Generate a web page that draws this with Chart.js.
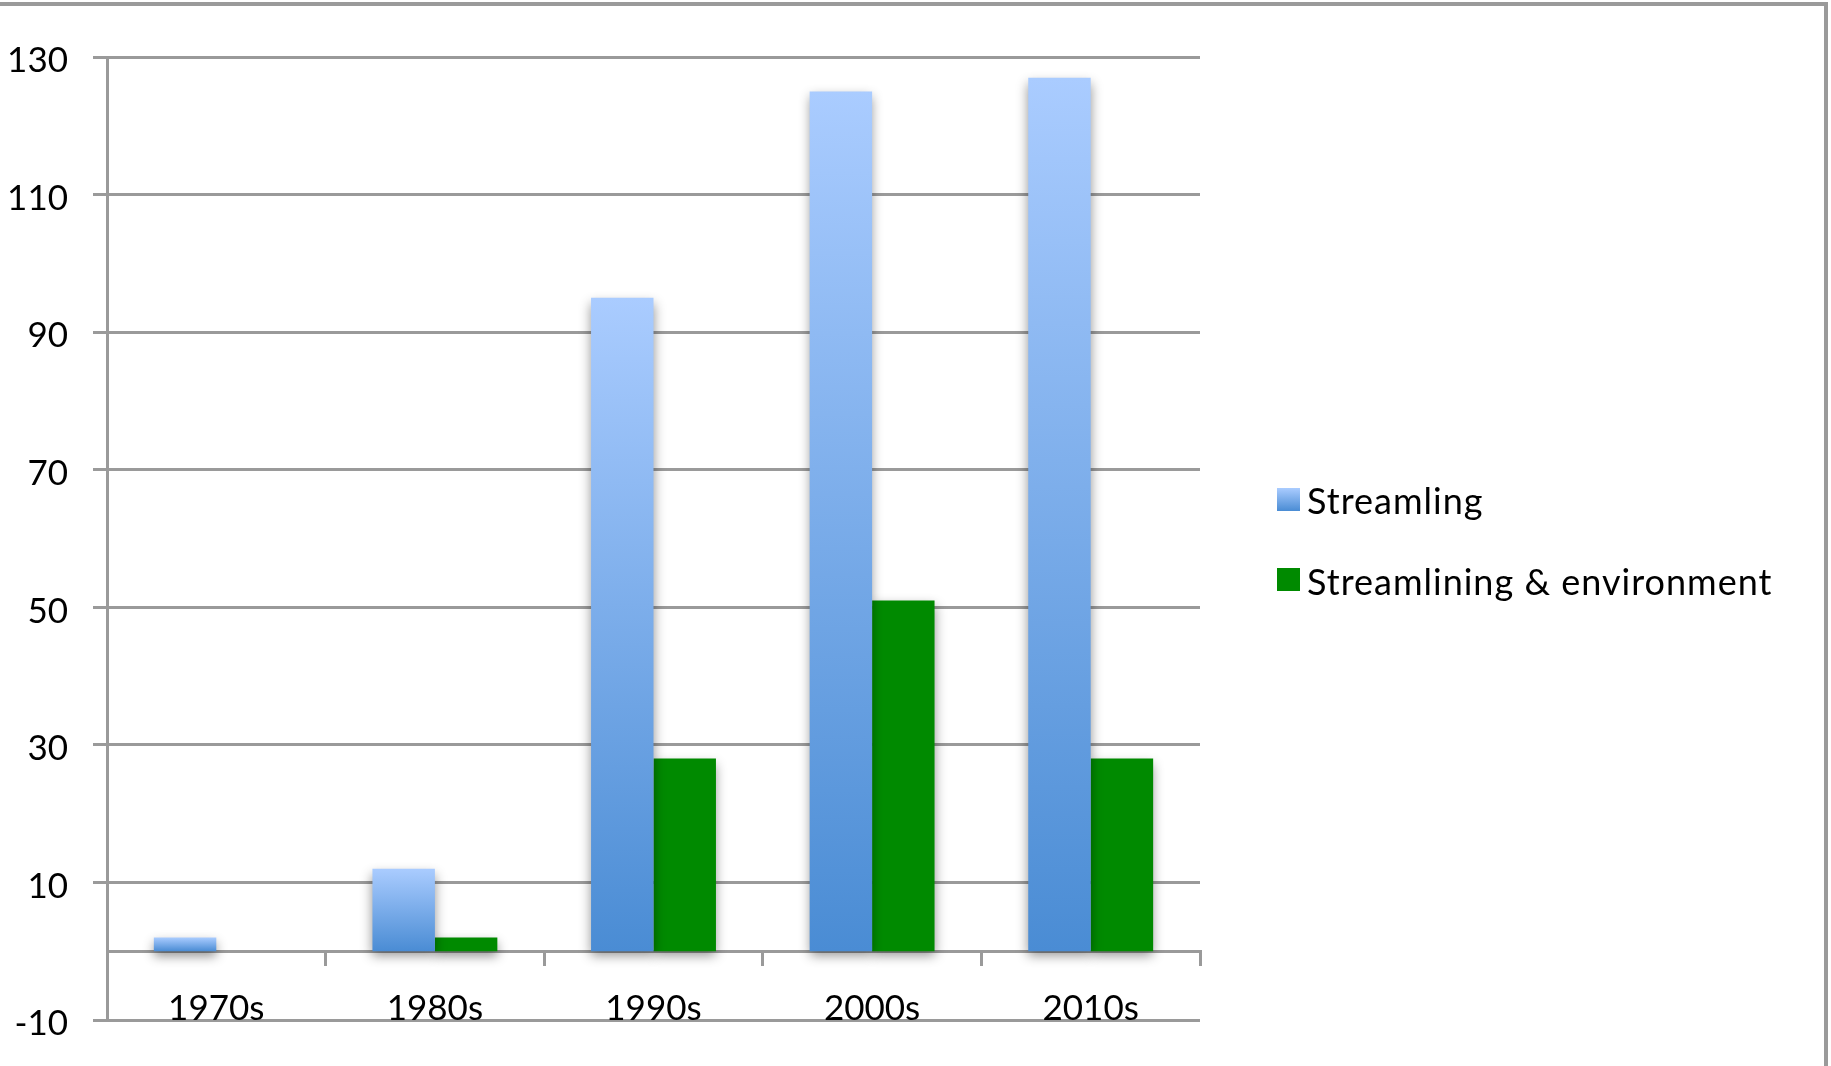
<!DOCTYPE html>
<html>
<head>
<meta charset="utf-8">
<title>Streamling by decade</title>
<script src="https://cdn.jsdelivr.net/npm/chart.js@4/dist/chart.umd.min.js"></script>
<style>
  html, body { margin: 0; padding: 0; background: #fff; overflow: hidden; }
  #wrap { position: relative; width: 1831px; height: 1066px; overflow: hidden; }
  #frame {
    position: absolute; left: -20px; top: 2px; width: 1848px; height: 1200px;
    box-sizing: border-box; border: 4px solid #9a9a9a;
  }
  #chart { position: absolute; left: 0; top: 0; }
</style>
</head>
<body>
<div id="wrap">
  <div id="frame"></div>
  <canvas id="chart" width="1831" height="1066"></canvas>
</div>
<script>
// Decades on the category axis
const categories = ['1970s', '1980s', '1990s', '2000s', '2010s'];

// Series values per decade
const streamlingValues = [2, 12, 95, 125, 127];
const environmentValues = [0, 2, 28, 51, 28];

// Series names
const seriesNames = ['Streamling', 'Streamlining & environment'];

// Value-axis tick labels
const yTicks = [-10, 10, 30, 50, 70, 90, 110, 130];

const FONT = 'Lato';
const BLUE_TOP = '#aaccff';
const BLUE_BOTTOM = '#4a8cd4';
const GREEN = '#008a00';
const GRID = '#9a9a9a';

// Each blue bar gets its own top-to-bottom gradient
function blueFill(ctx) {
  const chart = ctx.chart;
  const y = chart.scales && chart.scales.y;
  if (!y || !chart.chartArea || ctx.type !== 'data' || ctx.raw == null) return '#7fb0ec';
  const top = y.getPixelForValue(ctx.raw);
  const base = y.getPixelForValue(0);
  if (!isFinite(top) || !isFinite(base) || top === base) return '#7fb0ec';
  const g = chart.ctx.createLinearGradient(0, top, 0, base);
  g.addColorStop(0, BLUE_TOP);
  g.addColorStop(1, BLUE_BOTTOM);
  return g;
}

// Soft drop shadow behind the bars
const barShadow = {
  id: 'barShadow',
  beforeDatasetsDraw(chart) {
    const c = chart.ctx;
    c.save();
    c.shadowColor = 'rgba(0,0,0,0.42)';
    c.shadowBlur = 11;
    c.shadowOffsetX = 0;
    c.shadowOffsetY = 5;
  },
  afterDatasetsDraw(chart) {
    chart.ctx.restore();
  }
};

// Legend to the right of the plot
const sideLegend = {
  id: 'sideLegend',
  afterDraw(chart) {
    const c = chart.ctx;
    const boxX = 1277, boxSize = 23, textX = 1307;
    const rows = [{ boxTop: 488, baseline: 514 }, { boxTop: 568, baseline: 595 }];
    c.save();
    chart.data.datasets.forEach((ds, i) => {
      const r = rows[i];
      if (i === 0) {
        const g = c.createLinearGradient(0, r.boxTop, 0, r.boxTop + boxSize);
        g.addColorStop(0, BLUE_TOP);
        g.addColorStop(1, BLUE_BOTTOM);
        c.fillStyle = g;
      } else {
        c.fillStyle = GREEN;
      }
      c.fillRect(boxX, r.boxTop, boxSize, boxSize);
      c.fillStyle = '#000';
      c.font = '36px ' + FONT;
      if ('letterSpacing' in c) c.letterSpacing = '1px';
      c.textBaseline = 'alphabetic';
      c.textAlign = 'left';
      c.fillText(ds.label, textX, r.baseline);
    });
    c.restore();
  }
};

new Chart(document.getElementById('chart'), {
  type: 'bar',
  data: {
    labels: categories,
    datasets: [
      {
        label: seriesNames[0],
        data: streamlingValues,
        backgroundColor: blueFill,
        borderWidth: 0,
        categoryPercentage: 0.5714,
        barPercentage: 1.0
      },
      {
        label: seriesNames[1],
        data: environmentValues,
        backgroundColor: GREEN,
        borderWidth: 0,
        categoryPercentage: 0.5714,
        barPercentage: 1.0
      }
    ]
  },
  options: {
    responsive: false,
    animation: false,
    events: [],
    layout: { padding: { left: 0, top: 57, right: 631, bottom: 44 } },
    plugins: {
      legend: { display: false },
      tooltip: { enabled: false }
    },
    scales: {
      x: {
        position: { y: 0 },
        grid: {
          offset: true,
          drawOnChartArea: false,
          drawTicks: true,
          tickLength: 13,
          color: GRID,
          lineWidth: 3
        },
        border: { display: true, color: GRID, width: 3 },
        ticks: {
          font: { family: FONT, size: 35 },
          color: '#000',
          padding: 24,
          maxRotation: 0,
          autoSkip: false
        }
      },
      y: {
        min: -10,
        max: 130,
        afterBuildTicks: (scale) => { scale.ticks = yTicks.map(v => ({ value: v })); },
        afterFit: (scale) => { scale.width = 107; },
        grid: {
          color: GRID,
          lineWidth: 3,
          drawTicks: true,
          tickLength: 14
        },
        border: { display: true, color: GRID, width: 3 },
        ticks: {
          font: { family: FONT, size: 35 },
          color: '#000',
          padding: 25,
          labelOffset: 4
        }
      }
    }
  },
  plugins: [barShadow, sideLegend]
});
</script>
</body>
</html>
